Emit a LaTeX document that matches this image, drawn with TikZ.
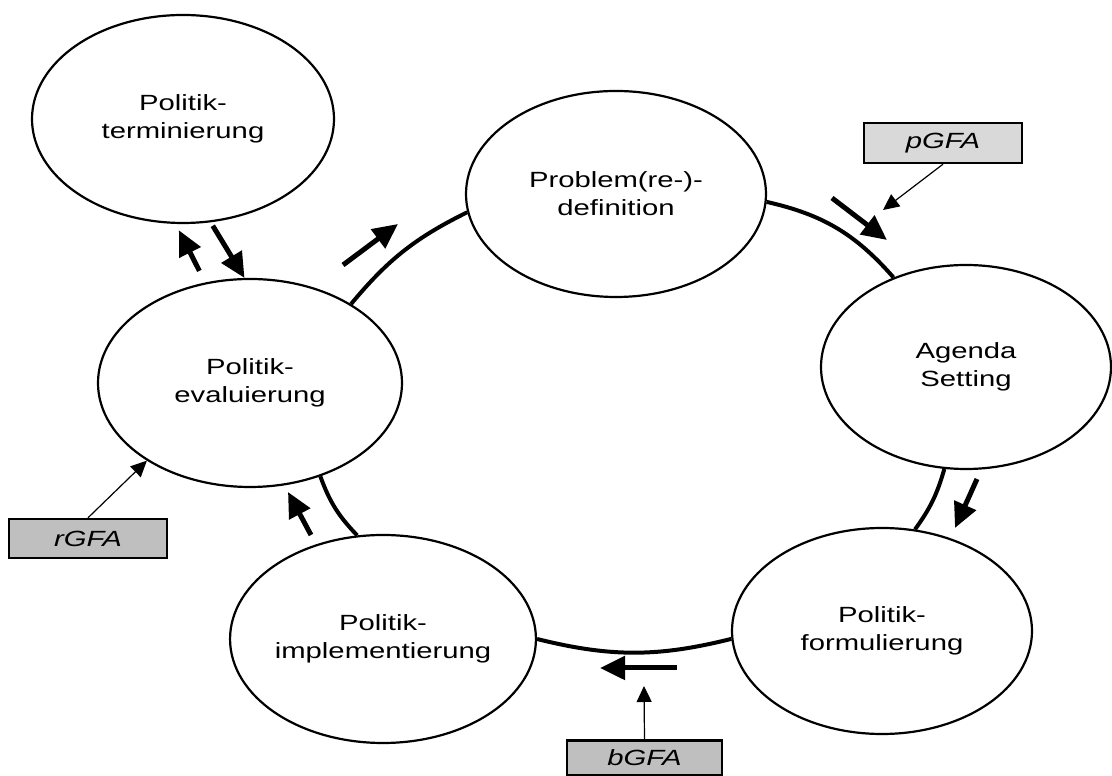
\documentclass[tikz,border=0pt]{standalone}
\usepackage{fontspec}
\setmainfont{Liberation Sans}[FakeStretch=1.33]
\usetikzlibrary{arrows.meta,shapes.geometric}
\definecolor{lightbox}{HTML}{D9D9D9}
\definecolor{darkbox}{HTML}{BFBFBF}
\begin{document}
\begin{tikzpicture}[x=1pt,y=1pt,
  stage/.style={ellipse,draw,line width=2.2pt,inner sep=0pt,align=center,font=\fontsize{22}{28}\selectfont},
  cyc/.style={line width=4pt},
  flow/.style={line width=5pt,-{Triangle[length=25pt,width=23pt]}},
  thinarrow/.style={line width=1.2pt,-{Triangle[length=16pt,width=15pt]}},
  gfa/.style={draw,line width=2.4pt,minimum width=158pt,minimum height=40pt,inner sep=0pt,font=\fontsize{22}{26}\selectfont\itshape}]
\useasboundingbox (0,0) rectangle (1112,776);
% stages
\node[stage,minimum width=302pt,minimum height=208pt] (te) at (183,657) {Politik-\\terminierung};
\node[stage,minimum width=300pt,minimum height=206pt] (pr) at (616,582) {Problem(re-)-\\definition};
\node[stage,minimum width=290pt,minimum height=204pt] (ag) at (966,409) {Agenda\\Setting};
\node[stage,minimum width=300pt,minimum height=206pt] (fo) at (882,145) {Politik-\\formulierung};
\node[stage,minimum width=300pt,minimum height=208pt] (im) at (383,137) {Politik-\\implementierung};
\node[stage,minimum width=304pt,minimum height=208pt] (ev) at (250,393) {Politik-\\evaluierung};
% GFA boxes
\node[gfa,fill=lightbox] (pg) at (943,633) {pGFA};
\node[gfa,fill=darkbox,minimum height=39pt] (rg) at (88,237.5) {rGFA};
\node[gfa,fill=darkbox,minimum width=155pt,minimum height=35pt] (bg) at (644.5,18) {bGFA};
% cycle arcs
\draw[cyc] (ev.38) to[bend left=12] (pr.187);
\draw[cyc] (pr.-3.5) to[bend left=18] (ag.129.4);
\draw[cyc] (ag.258.5) to[bend left=10] (fo.72);
\draw[cyc] (fo.183) to[bend left=14] (im.0);
\draw[cyc] (im.104) to[bend left=12] (ev.307);
% flow arrows
\coordinate (f1s) at (343,511); \coordinate (f1e) at (398,552);
\coordinate (f2s) at (832,578); \coordinate (f2e) at (887,536);
\coordinate (f3s) at (977,297); \coordinate (f3e) at (955,248);
\coordinate (f4s) at (677,108); \coordinate (f4e) at (600,108);
\coordinate (f5s) at (311,241); \coordinate (f5e) at (288,284);
\draw[flow] (f1s) -- (f1e);
\draw[flow] (f2s) -- (f2e);
\draw[flow] (f3s) -- (f3e);
\draw[flow] (f4s) -- (f4e);
\draw[flow] (f5s) -- (f5e);
\draw[flow,shorten <=4pt] (te.-75.7) -- (ev.93.8);
\draw[flow,shorten <=13pt,shorten >=7pt] (ev.114.7) -- (te.266.9);
% GFA arrows
\coordinate (pgt) at (883,566);
\coordinate (bgt) at (644,90);
\draw[thinarrow] (pg.south) -- (pgt);
\draw[thinarrow] (rg.north) -- (ev.217);
\draw[thinarrow] (bg.north) -- (bgt);
\end{tikzpicture}
\end{document}
